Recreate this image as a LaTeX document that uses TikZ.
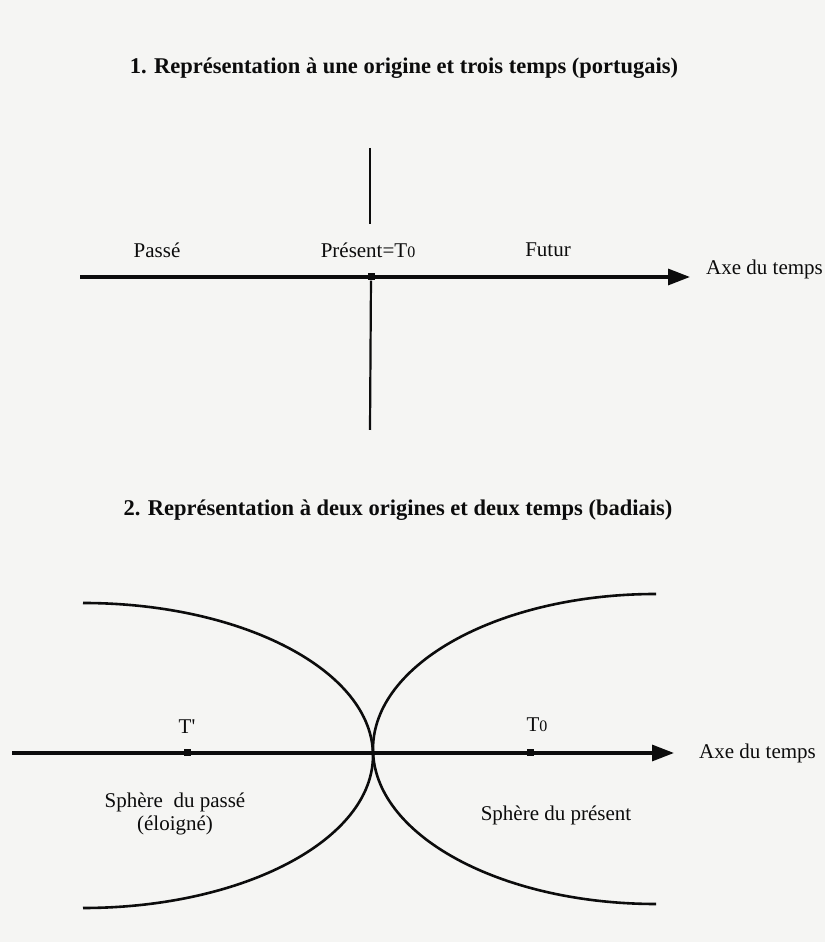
\documentclass[tikz,border=0pt]{standalone}
\usepackage{fontspec}
\setmainfont{Liberation Serif}
\usetikzlibrary{arrows.meta,positioning}
\definecolor{paper}{RGB}{245,245,243}
\definecolor{ink}{RGB}{12,12,12}
\newcommand{\Tzero}{T{\fontsize{16}{16}\selectfont 0}}
\tikzset{
  ttl/.style={font=\fontsize{22.5}{27}\selectfont\bfseries,text=ink,inner sep=0pt},
  lbl/.style={font=\fontsize{21}{23}\selectfont,text=ink,inner sep=1pt},
  axis/.style={draw=ink,line width=3.2pt,-{Triangle[length=22pt,width=16pt]}},
  vline/.style={draw=ink,line width=2.2pt},
  arcline/.style={draw=ink,line width=2.6pt},
  tick/.style={fill=ink,minimum size=7pt,inner sep=0pt},
}

\begin{document}
\begin{tikzpicture}[x=1pt,y=1pt]
  \fill[paper] (0,0) rectangle (825,942);
  \useasboundingbox (0,0) rectangle (825,942);

  % 1. une origine, trois temps
  \node[ttl] (titleA) at (404,874) {1. Représentation à une origine et trois temps (portugais)};
  \coordinate (axA0) at (80,665);
  \coordinate (axA1) at (690,665);
  \coordinate (vtop) at (370,794);
  \coordinate (vgap) at (370,718);
  \coordinate (vbot) at (370,512);
  \draw[axis] (axA0) -- (axA1);
  \node[tick] (t0A) at (371,665) {};
  \draw[vline] (vtop) -- (vgap);
  \draw[vline] (t0A) -- (vbot);
  \node[lbl] (passe) at (157,692) {Passé};
  \node[lbl] (present) at (368,692) {Présent=\Tzero};
  \node[lbl] (futur) at (548,692) {Futur};
  \node[lbl,anchor=base west] (axeA) at (705,667) {Axe du temps};

  % 2. deux origines, deux temps
  \node[ttl] (titleB) at (398,432) {2. Représentation à deux origines et deux temps (badiais)};
  \coordinate (pastTop) at (83,339);
  \coordinate (presTop) at (656,348);
  \draw[arcline] (pastTop) arc[start angle=90,end angle=-90,x radius=290,y radius=152.5];
  \draw[arcline] (presTop) arc[start angle=90,end angle=270,x radius=283,y radius=155];
  \coordinate (axB0) at (12,189);
  \coordinate (axB1) at (674,189);
  \draw[axis] (axB0) -- (axB1);
  \node[tick] (tprime) at (187,189) {};
  \node[tick] (t0B) at (530,189) {};
  \node[lbl] (tprimeLbl) at (187,215) {T\textquotesingle};
  \node[lbl] (t0Lbl) at (537,217) {\Tzero};
  \node[lbl,anchor=west] (axeB) at (698,189) {Axe du temps};
  \node[lbl,align=center] (sphPasse) at (175,128) {Sphère\ \ du passé\\(éloigné)};
  \node[lbl] (sphPresent) at (556,127) {Sphère du présent};
\end{tikzpicture}
\end{document}
